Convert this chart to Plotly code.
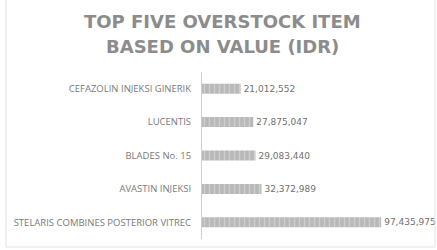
import plotly.graph_objects as go

categories = ["CEFAZOLIN INJEKSI GINERIK", "LUCENTIS", "BLADES No. 15",
              "AVASTIN INJEKSI", "STELARIS COMBINES POSTERIOR VITREC"]
values = [21012552, 27875047, 29083440, 32372989, 97435975]
value_labels = ["21,012,552", "27,875,047", "29,083,440", "32,372,989", "97,435,975"]
title_lines = ["TOP FIVE OVERSTOCK ITEM", "BASED ON VALUE (IDR)"]

fig = go.Figure(go.Bar(
    y=categories, x=values, orientation="h",
    text=value_labels, textposition="outside",
    textfont=dict(family="DejaVu Sans", size=9, color="#707070"),
    cliponaxis=False,
    marker=dict(color="#c4c4c4", line=dict(width=0),
                pattern=dict(shape="|", fgcolor="#e2e2e2", bgcolor="#b8b8b8",
                             size=5, solidity=0.3)),
))

fig.update_layout(
    width=437, height=250,
    margin=dict(l=202, r=7, t=72, b=11),
    paper_bgcolor="white", plot_bgcolor="white",
    showlegend=False, bargap=0.7,
    font=dict(family="Open Sans"),
)
for txt, yy in zip(title_lines, [1.305, 1.15]):
    fig.add_annotation(text="<b>" + txt + "</b>", xref="paper", yref="paper",
                       x=0.09, y=yy, xanchor="center", yanchor="middle",
                       showarrow=False,
                       font=dict(family="DejaVu Sans", size=18, color="#8c8c8c"))
fig.update_xaxes(range=[0, 124e6], visible=False, showgrid=False, zeroline=False)
fig.update_yaxes(autorange="reversed", showline=True, linecolor="#cfcfcf", linewidth=1,
                 ticks="", ticklen=0, ticklabelstandoff=8, showgrid=False,
                 tickfont=dict(family="Open Sans", size=9.5, color="#7a7a7a"))
fig.add_shape(type="rect", xref="paper", yref="paper",
              x0=-0.86, x1=1.022, y0=-0.048, y1=1.5,
              line=dict(color="#e2e2e2", width=1), fillcolor="rgba(0,0,0,0)")
fig.write_html("out.html")
